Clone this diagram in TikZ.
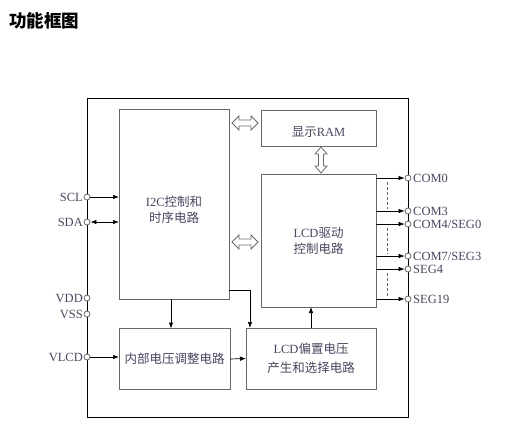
\documentclass[tikz,border=0pt]{standalone}
\usepackage{fontspec}
\setmainfont{Liberation Serif}
\newfontfamily\cjk{Noto Sans CJK SC}
\usetikzlibrary{arrows.meta,calc}
\definecolor{txt}{RGB}{70,70,95}
\definecolor{bx}{RGB}{105,105,105}
\tikzset{
  frame/.style={draw=black, line width=0.9pt},
  box/.style={draw=bx, line width=1pt, rectangle, inner sep=0pt, outer sep=0pt},
  boxtext/.style={text=txt, align=center, font=\fontsize{12.5}{16}\selectfont, inner sep=0pt},
  pinc/.style={circle, draw=bx, fill=white, minimum size=6pt, inner sep=0pt, line width=0.8pt},
  pinl/.style={text=txt, font=\fontsize{12.5}{14}\selectfont, inner sep=0pt},
  arr/.style={draw=black, line width=0.7pt, -{Latex[length=6pt,width=4.5pt]}},
  arrtwo/.style={draw=black, line width=0.7pt, {Latex[length=6pt,width=4.5pt]}-{Latex[length=6pt,width=4.5pt]}},
  dashline/.style={draw=bx, line width=0.7pt, dash pattern=on 3pt off 2pt},
  hollow/.pic={\draw[draw=bx, line width=0.8pt, fill=white]
     (-13,0) -- (-6,-7) -- (-6,-3) -- (6,-3) -- (6,-7) -- (13,0)
     -- (6,7) -- (6,3) -- (-6,3) -- (-6,7) -- cycle;}
}
\begin{document}
\begin{tikzpicture}[x=1pt,y=-1pt]
\useasboundingbox (0,0) rectangle (518,429);

% title
\node[anchor=west, inner sep=0pt, font=\cjk\bfseries\fontsize{17.5}{20}\selectfont] (title) at (9,21) {功能框图};

% outer frame
\draw[frame] (87,98) rectangle (408,417);

% boxes
\node[box, minimum width=110pt, minimum height=190pt] (i2c) at (174,204) {};
\node[boxtext] (i2ct) at (174,210) {I2C{\cjk 控制和}\\{\cjk 时序电路}};
\node[box, minimum width=115pt, minimum height=36pt] (ram) at (318.5,128) {};
\node[boxtext] (ramt) at (318.5,132) {{\cjk 显示}RAM};
\node[box, minimum width=115pt, minimum height=133pt, boxtext] (drv) at (318.5,240.5) {LCD{\cjk 驱动}\\{\cjk 控制电路}};
\node[box, minimum width=111pt, minimum height=61pt, boxtext] (ivr) at (174.5,359) {{\cjk 内部电压调整电路}};
\node[box, minimum width=130pt, minimum height=61pt, boxtext, font=\fontsize{12.5}{19}\selectfont] (bias) at (311,358.5) {LCD{\cjk 偏置电压}\\{\cjk 产生和选择电路}};

% hollow double arrows
\pic at (245,123) {hollow};
\pic at (245,242) {hollow};
\pic[rotate=90, yscale=0.85] at (321,160) {hollow};

% left pins
\foreach \n/\y/\t in {scl/197/SCL, sda/222/SDA, vdd/298/VDD, vss/314/VSS, vlcd/357/VLCD}{
  \node[pinc] (\n) at (87,\y) {};
  \node[pinl, anchor=east] (\n l) at (83,\y) {\t};
}
% right pins
\foreach \n/\y/\t in {comzero/178/{COM0}, comthree/211/{COM3}, comfour/224/{COM4/SEG0}, comseven/256/{COM7/SEG3}, segfour/269/{SEG4}, segnineteen/299/{SEG19}}{
  \node[pinc] (\n) at (408,\y) {};
  \node[pinl, anchor=west] (\n l) at (413,\y) {\t};
}

% connectors left
\draw[arr] (scl) -- (scl -| i2c.west);
\draw[arrtwo] (sda) -- (sda -| i2c.west);
\draw[arr] (vlcd) -- (vlcd -| ivr.west);

% connectors right
\foreach \n in {comzero, comthree, comfour, comseven, segfour, segnineteen}{
  \draw[arr] (\n -| drv.east) -- (\n);
}
\draw[dashline] (387,182) -- (387,209);
\draw[dashline] (387,228) -- (387,254);
\draw[dashline] (387,273) -- (387,297);

% internal connectors
\draw[arr] ($(i2c.south)+(-3,0)$) -- ($(ivr.north)+(-3.5,0)$);
\draw[arr] ($(i2c.south east)+(0,-9)$) -| ($(bias.north west)+(4,0)$);
\draw[arr] (ivr.east) -- (bias.west);
\draw[arr] (bias.north) -- (bias.north |- drv.south);
\end{tikzpicture}
\end{document}
